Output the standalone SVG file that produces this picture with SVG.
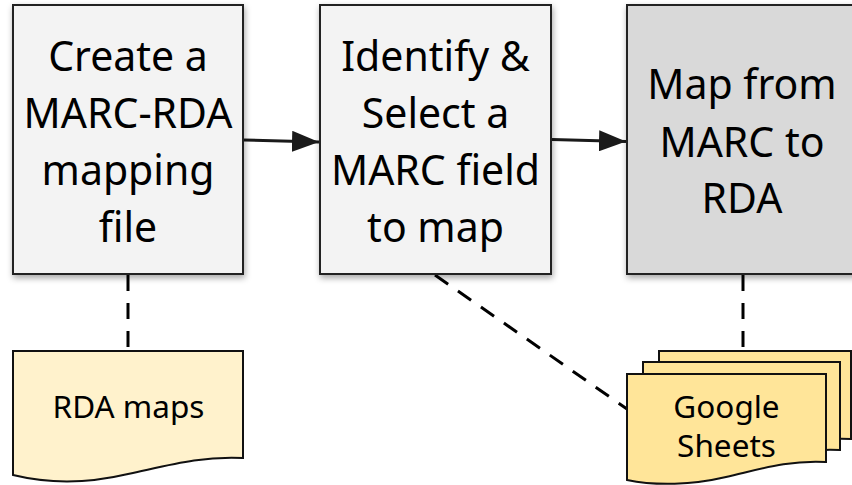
<svg xmlns="http://www.w3.org/2000/svg" width="852" height="485" viewBox="0 0 852 485">
<style>
.box{stroke:#222;stroke-width:2;filter:url(#sh)}
.big{font-family:"Noto Sans","Open Sans",sans-serif;font-size:41px;fill:#000;text-anchor:middle}
.sm{font-family:"Noto Sans","Open Sans",sans-serif;font-size:31.5px;fill:#000;text-anchor:middle}
.doc{stroke:#111;stroke-width:2}
.arrow{stroke:#1a1a1a;stroke-width:3;fill:none;marker-end:url(#ah)}
.dash{stroke:#000;stroke-width:3;fill:none;stroke-dasharray:16 12}
</style>
<defs>
<filter id="sh" x="-10%" y="-10%" width="130%" height="130%">
<feDropShadow dx="1" dy="3" stdDeviation="3" flood-color="#000" flood-opacity="0.35"/>
</filter>
<marker id="ah" markerWidth="9" markerHeight="7" refX="9" refY="3.5" orient="auto" markerUnits="strokeWidth">
<path d="M0,0 L9,3.5 L0,7 Z" fill="#1a1a1a"/>
</marker>
</defs>
<g id="connectors">
<line class="arrow" x1="244" y1="140" x2="319" y2="142"/>
<line class="arrow" x1="552" y1="139.5" x2="626" y2="141.5"/>
<line class="dash" x1="128" y1="275" x2="128" y2="350"/>
<line class="dash" x1="435" y1="275" x2="627" y2="409"/>
<line class="dash" x1="743" y1="275" x2="743" y2="350"/>
</g>
<g id="create">
<rect class="box" x="13" y="5" width="230" height="269" fill="#f3f3f3"/>
<text class="big" x="128" y="70.5">Create a</text>
<text class="big" x="128" y="128">MARC-RDA</text>
<text class="big" x="128" y="185">mapping</text>
<text class="big" x="128" y="242">file</text>
</g>
<g id="identify">
<rect class="box" x="320" y="5" width="231" height="269" fill="#f3f3f3"/>
<text class="big" x="435.5" y="70.5">Identify &amp;</text>
<text class="big" x="435.5" y="128">Select a</text>
<text class="big" x="435.5" y="185">MARC field</text>
<text class="big" x="435.5" y="242">to map</text>
</g>
<g id="mapfrom">
<rect class="box" x="627" y="5" width="230" height="269" fill="#d9d9d9"/>
<text class="big" x="742" y="98.5">Map from</text>
<text class="big" x="742" y="156.5">MARC to</text>
<text class="big" x="742" y="213">RDA</text>
</g>
<g id="rdamaps">
<path class="doc" fill="#fff2cc" d="M13,351 H243 V458 C200,456 170,465 128,474 C90,483 50,484 13,475 Z"/>
<text class="sm" x="128.5" y="418">RDA maps</text>
</g>
<g id="sheets">
<path class="doc" fill="#ffe599" d="M659,351 H851 V439 C815,437 790,446 757,454 C725,462 690,463 659,456 Z"/>
<path class="doc" fill="#ffe599" d="M643,362 H840 V450 C803,448 777,457 743,465 C710,473 675,474 643,467 Z"/>
<path class="doc" fill="#ffe599" d="M627,374 H826 V462 C788,460 761,469 726,477 C692,485 656,486 627,480 Z"/>
<text class="sm" x="726.5" y="417.5">Google</text>
<text class="sm" x="726.5" y="457">Sheets</text>
</g>
</svg>
